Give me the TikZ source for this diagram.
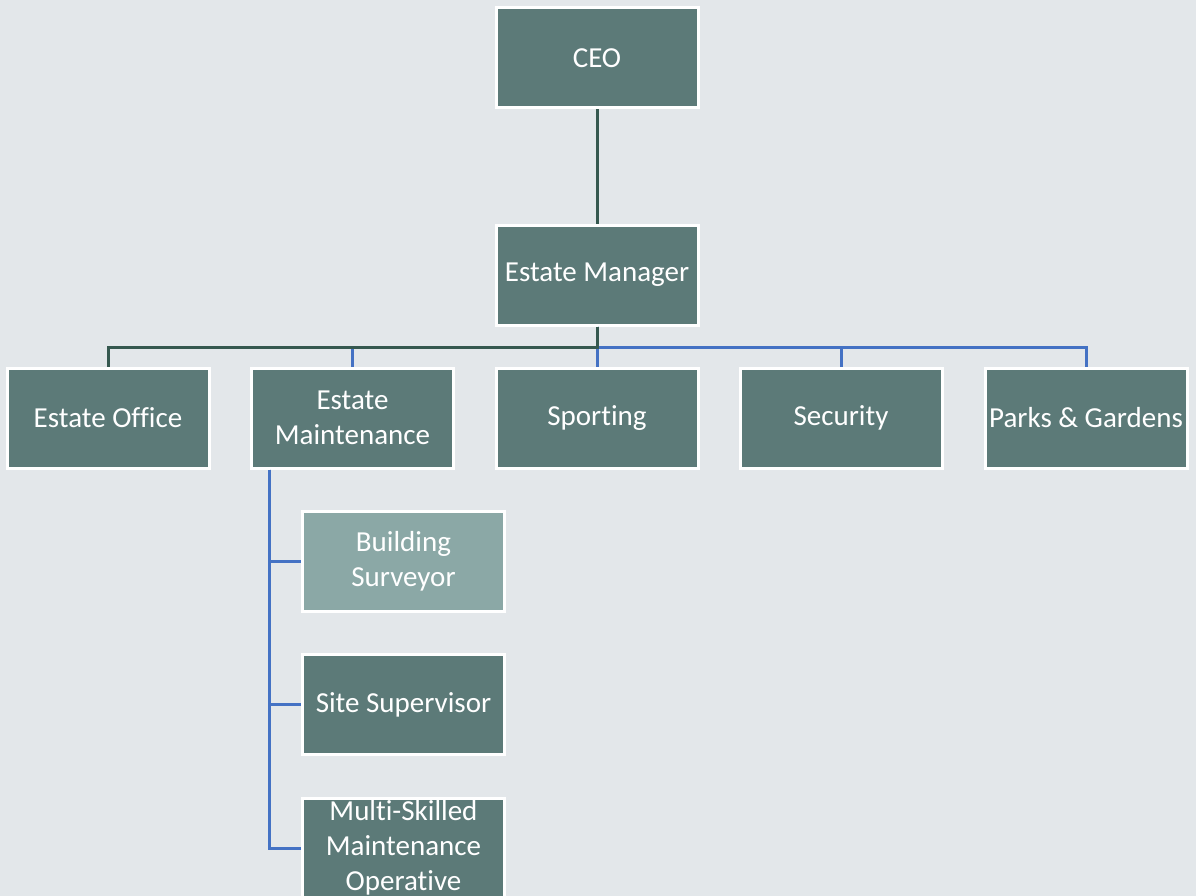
\documentclass[tikz,border=0pt]{standalone}
\usepackage{fontspec}
\setmainfont{Carlito}[Ligatures={NoCommon}]
\usetikzlibrary{calc}
\definecolor{bgc}{HTML}{E3E7EA}
\definecolor{boxc}{HTML}{5C7A78}
\definecolor{lboxc}{HTML}{8BA8A6}
\definecolor{darkline}{HTML}{35584F}
\definecolor{blueline}{HTML}{4472C4}
\tikzset{
  orgbox/.style={draw=white, line width=3pt, fill=boxc, text=white,
    minimum width=202pt, minimum height=100pt, inner sep=0pt, align=center,
    font=\fontsize{29}{35}\selectfont},
  lightbox/.style={orgbox, fill=lboxc},
  dline/.style={draw=darkline, line width=3pt},
  bline/.style={draw=blueline, line width=3pt},
}
\begin{document}
\begin{tikzpicture}[x=1pt,y=-1pt]
\path[use as bounding box, fill=bgc] (0,0) rectangle (1196,896);
\coordinate (busy) at (0,347);
\node[orgbox] (ceo) at (597,58) {CEO};
\node[orgbox] (em) at (597,275) {Estate Manager};
\node[orgbox] (office) at (108,418) {Estate Office};
\node[orgbox] (maint) at (352.5,418) {Estate\\Maintenance};
\node[orgbox] (sport) at (597,418) {Sporting};
\node[orgbox] (sec) at (841,418) {Security};
\node[orgbox] (parks) at (1086,418) {Parks \& Gardens};
\node[lightbox] (bs) at (403.5,561.5) {Building\\Surveyor};
\node[orgbox] (ss) at (403.5,704.5) {Site Supervisor};
\node[orgbox] (mso) at (403.5,848) {Multi-Skilled\\Maintenance\\Operative};
\coordinate (trunk) at ($(maint.south west)+(19,0)$);
\draw[dline] (ceo.south) -- (em.north);
\draw[bline] (em.south) -- (em.south |- busy) -| (maint.north);
\draw[bline] (em.south) -- (sport.north);
\draw[bline] (em.south) -- (em.south |- busy) -| (sec.north);
\draw[bline] (em.south) -- (em.south |- busy) -| (parks.north);
\draw[dline] (em.south) -- (em.south |- busy) -| (office.north);
\draw[bline] (trunk) |- (bs.west);
\draw[bline] (trunk) |- (ss.west);
\draw[bline] (trunk) |- (mso.west);
\end{tikzpicture}
\end{document}
